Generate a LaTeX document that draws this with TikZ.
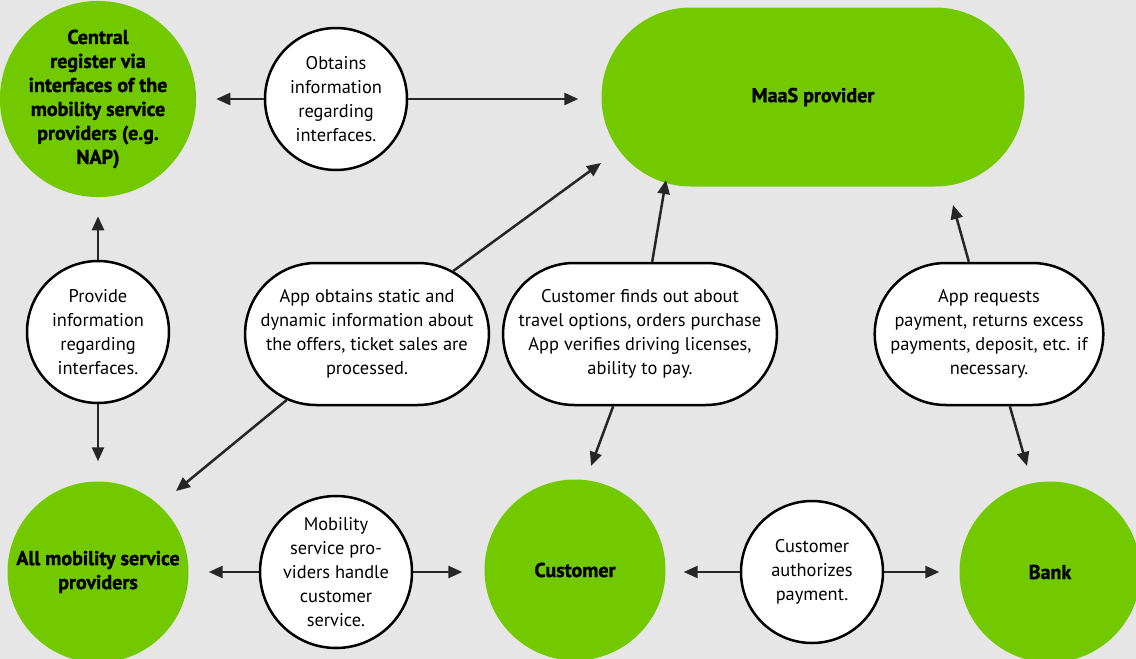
\documentclass[tikz,border=0pt]{standalone}
\usepackage{fontspec}
\setmainfont{PT Sans}
\newfontfamily\heavyfont[BoldFeatures={FakeBold=1.2}]{PT Sans}
\usetikzlibrary{arrows.meta,shapes.misc}
\definecolor{maasgreen}{RGB}{114,201,0}
\definecolor{bggray}{RGB}{230,230,230}

\begin{document}
\begin{tikzpicture}[x=1pt, y=-1pt,
		actor/.style={circle, fill=maasgreen, minimum size=181pt, inner sep=0pt, align=center, font=\fontsize{20}{24}\heavyfont\bfseries},
		info/.style={circle, draw, fill=white, line width=2.5pt, minimum size=142pt, inner sep=0pt, align=center, font=\fontsize{18.4}{24}\selectfont},
		infolong/.style={rounded rectangle, draw, fill=white, line width=2.5pt, minimum height=142pt, inner sep=0pt, align=center, font=\fontsize{18.4}{24}\selectfont},
		arr/.style={-{Triangle[length=14pt,width=12pt]}, line width=2.5pt, draw=black!85}]
		\useasboundingbox (0,0) rectangle (1136,659);
		\fill[bggray] (0,0) rectangle (1136,659);

		% actors
		\node[actor] (central) at (98,99) {Central\\register via\\interfaces of the\\mobility service\\providers (e.g.\\NAP)};
		\node[actor, rounded rectangle, minimum width=423pt, minimum height=179pt] (maas) at (813,97) {MaaS provider};
		\node[actor] (allmob) at (98,572) {All mobility service\\providers};
		\node[actor] (customer) at (575,570) {Customer};
		\node[actor] (bank) at (1050,572) {Bank};

		% information flows
		\node[info] (obtains) at (336,99) {Obtains\\information\\regarding\\interfaces.};
		\node[info] (provide) at (98,332) {Provide\\information\\regarding\\interfaces.};
		\node[infolong, minimum width=239pt] (appinfo) at (367,334) {App obtains static and\\dynamic information about\\the offers, ticket sales are\\processed.};
		\node[infolong, minimum width=271pt] (custinfo) at (640,334) {Customer finds out about\\travel options, orders purchase\\App verifies driving licenses,\\ability to pay.};
		\node[infolong, minimum width=213pt] (payinfo) at (989,334) {App requests\\payment, returns excess\\payments, deposit, etc. if\\necessary.};
		\node[info] (service) at (336,572) {Mobility\\service pro-\\viders handle\\customer\\service.};
		\node[info] (authorize) at (812,572) {Customer\\authorizes\\payment.};

		\coordinate (maastipA) at (601,163);
		\coordinate (maastipB) at (666,180);
		\coordinate (maastipC) at (953,205);
		\coordinate (allmobtip) at (176,491);
		\coordinate (custtip) at (591,466);
		\coordinate (banktip) at (1027,466);

		\draw[arr, shorten >=20pt] (obtains) -- (central);
		\draw[arr, shorten >=23pt] (obtains) -- (obtains -| maas.west);
		\draw[arr, shorten >=19pt] (provide) -- (central);
		\draw[arr, shorten >=20pt] (provide) -- (allmob);
		\draw[arr] (appinfo) -- (maastipA);
		\draw[arr] (appinfo) -- (allmobtip);
		\draw[arr] (custinfo) -- (maastipB);
		\draw[arr] (custinfo) -- (custtip);
		\draw[arr] (payinfo) -- (maastipC);
		\draw[arr] (payinfo) -- (banktip);
		\draw[arr, shorten >=20pt] (service) -- (allmob);
		\draw[arr, shorten >=22pt] (service) -- (service -| customer.west);
		\draw[arr, shorten >=18pt] (authorize) -- (authorize -| customer.east);
		\draw[arr, shorten >=20pt] (authorize) -- (bank);
	\end{tikzpicture}
\end{document}
